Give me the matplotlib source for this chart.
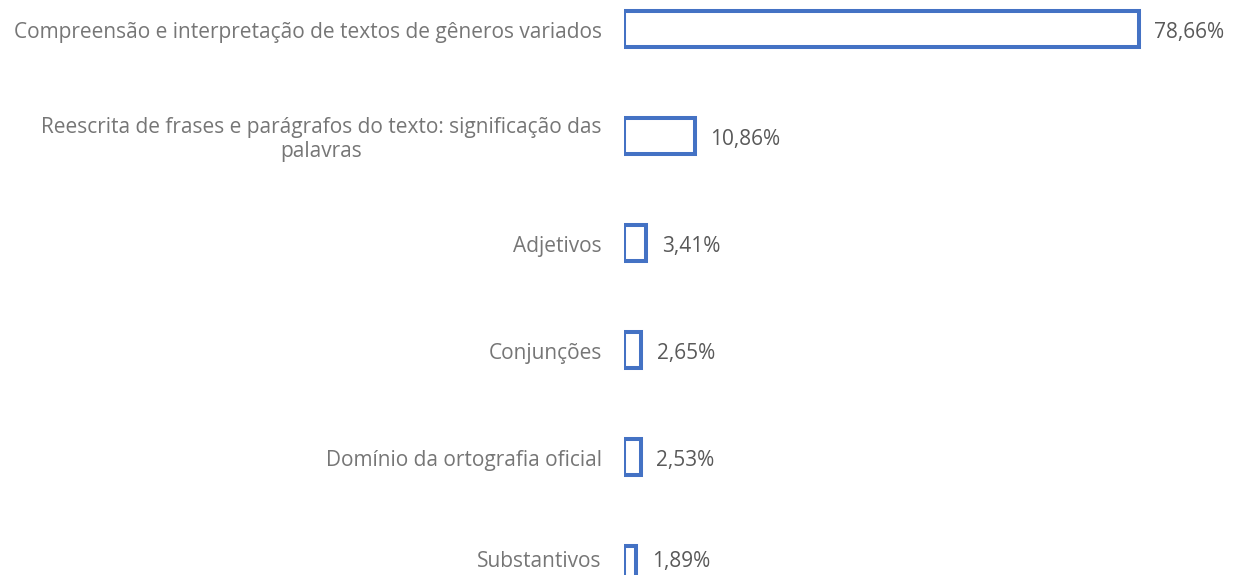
import matplotlib
matplotlib.use("Agg")
import matplotlib.pyplot as plt

CATEGORIES = [
    "Compreensão e interpretação de textos de gêneros variados",
    "Reescrita de frases e parágrafos do texto: significação das\npalavras",
    "Adjetivos",
    "Conjunções",
    "Domínio da ortografia oficial",
    "Substantivos",
]
VALUES = [78.66, 10.86, 3.41, 2.65, 2.53, 1.89]

BAR_EDGE = "#4472C4"
VALUE_CLR = "#595959"
LABEL_CLR = "#767676"

W, H = 1233, 575
fig = plt.figure(figsize=(W / 100, H / 100), dpi=100)
ax = fig.add_axes([624 / W, 0, 589 / W, 1])

pos = list(range(len(CATEGORIES)))
ax.barh(pos, VALUES, height=0.33, facecolor="white", edgecolor=BAR_EDGE,
        linewidth=2.9)

ax.set_xlim(0, 90)
ax.set_ylim(5.103, -0.271)

last = len(pos) - 1
for y, v, name in zip(pos, VALUES, CATEGORIES):
    # the bottom row sits at the figure edge, so keep its text inside
    dy = 1.5 if y == last else -2.5
    ax.annotate(f"{v:.2f}%".replace(".", ","), (v, y), xytext=(11, dy),
                textcoords="offset points", va="center", ha="left",
                fontsize=15, color=VALUE_CLR, family="Open Sans",
                annotation_clip=False)
    ax.annotate(name, (0, y), xytext=(-16, dy), textcoords="offset points",
                va="center", ha="right", multialignment="center",
                linespacing=1.2, fontsize=15, color=LABEL_CLR,
                family="Open Sans", annotation_clip=False)

ax.set_xticks([])
ax.set_yticks([])
for spine in ax.spines.values():
    spine.set_visible(False)

fig.savefig("out.png", dpi=100)
